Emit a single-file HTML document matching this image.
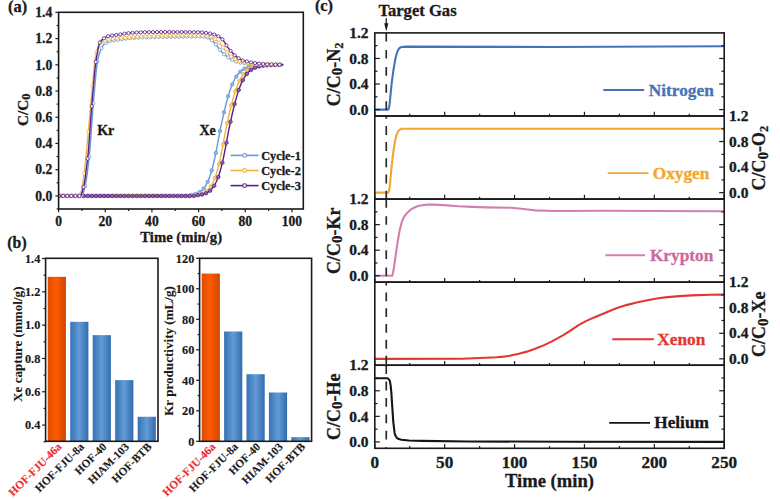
<!DOCTYPE html>
<html><head><meta charset="utf-8"><style>
html,body{margin:0;padding:0;background:#fff;width:780px;height:500px;overflow:hidden}
svg{display:block} text{stroke-width:0.3px}
</style></head><body>
<svg width="780" height="500" viewBox="0 0 780 500" font-family="Liberation Serif" font-weight="bold">
<rect width="780" height="500" fill="#fff"/>
<defs><clipPath id="clipA"><rect x="58.8" y="12.6" width="244.2" height="195.6"/></clipPath></defs>
<path d="M58.6,195.9 L186.97,195.9 L187.42,195.41 L191.45,194.93 L194.6,194.25 L196.84,193.49 L199.08,192.39 L200.88,191.17 L202.68,189.55 L205.37,186.1 L208.06,181.01 L210.75,173.74 L212.55,167.49 L214.79,158.01 L217.04,146.87 L220.18,129.71 L223.77,113.3 L226.46,102.23 L229.16,92.83 L231.4,86.41 L233.65,81.22 L236.34,76.44 L239.03,72.96 L242.17,70.13 L245.76,68.04 L249.8,66.64 L254.74,65.72 L260.58,65.2 L269.1,64.92 L282.57,64.82" fill="none" stroke="#6699d6" stroke-width="1.4" stroke-linejoin="round" stroke-linecap="round" clip-path="url(#clipA)"/>
<g fill="#93b7e2" stroke="#6699d6" stroke-width="0.8" clip-path="url(#clipA)"><circle cx="60.7" cy="195.9" r="1.75"/><circle cx="64.78" cy="195.9" r="1.75"/><circle cx="68.87" cy="195.9" r="1.75"/><circle cx="72.95" cy="195.9" r="1.75"/><circle cx="77.03" cy="195.9" r="1.75"/><circle cx="81.11" cy="195.9" r="1.75"/><circle cx="85.2" cy="195.9" r="1.75"/><circle cx="89.28" cy="195.9" r="1.75"/><circle cx="93.36" cy="195.9" r="1.75"/><circle cx="97.44" cy="195.9" r="1.75"/><circle cx="101.53" cy="195.9" r="1.75"/><circle cx="105.61" cy="195.9" r="1.75"/><circle cx="109.69" cy="195.9" r="1.75"/><circle cx="113.78" cy="195.9" r="1.75"/><circle cx="117.86" cy="195.9" r="1.75"/><circle cx="121.94" cy="195.9" r="1.75"/><circle cx="126.02" cy="195.9" r="1.75"/><circle cx="130.11" cy="195.9" r="1.75"/><circle cx="134.19" cy="195.9" r="1.75"/><circle cx="138.27" cy="195.9" r="1.75"/><circle cx="142.35" cy="195.9" r="1.75"/><circle cx="146.44" cy="195.9" r="1.75"/><circle cx="150.52" cy="195.9" r="1.75"/><circle cx="154.6" cy="195.9" r="1.75"/><circle cx="158.69" cy="195.9" r="1.75"/><circle cx="162.77" cy="195.9" r="1.75"/><circle cx="166.85" cy="195.9" r="1.75"/><circle cx="170.93" cy="195.9" r="1.75"/><circle cx="175.02" cy="195.9" r="1.75"/><circle cx="179.1" cy="195.9" r="1.75"/><circle cx="183.18" cy="195.9" r="1.75"/><circle cx="187.26" cy="195.9" r="1.75"/><circle cx="191.35" cy="194.95" r="1.75"/><circle cx="195.43" cy="194" r="1.75"/><circle cx="199.51" cy="192.13" r="1.75"/><circle cx="203.6" cy="188.53" r="1.75"/><circle cx="207.68" cy="181.85" r="1.75"/><circle cx="211.76" cy="170.38" r="1.75"/><circle cx="215.84" cy="152.98" r="1.75"/><circle cx="219.93" cy="131.01" r="1.75"/><circle cx="224.01" cy="112.26" r="1.75"/><circle cx="228.09" cy="96.33" r="1.75"/><circle cx="232.18" cy="84.49" r="1.75"/><circle cx="236.26" cy="76.57" r="1.75"/><circle cx="240.34" cy="71.64" r="1.75"/><circle cx="244.42" cy="68.71" r="1.75"/><circle cx="248.51" cy="67.01" r="1.75"/><circle cx="252.59" cy="66.04" r="1.75"/><circle cx="256.67" cy="65.5" r="1.75"/><circle cx="260.75" cy="65.19" r="1.75"/><circle cx="264.84" cy="65.02" r="1.75"/><circle cx="268.92" cy="64.92" r="1.75"/><circle cx="273" cy="64.87" r="1.75"/><circle cx="277.09" cy="64.84" r="1.75"/><circle cx="281.17" cy="64.82" r="1.75"/></g>
<path d="M58.6,195.9 L192.8,195.9 L193.25,195.39 L197.29,194.89 L200.43,194.18 L202.68,193.39 L204.47,192.51 L206.27,191.34 L208.06,189.77 L210.75,186.43 L213.45,181.48 L216.14,174.41 L217.94,168.29 L220.18,158.98 L222.42,147.99 L226.01,128.61 L229.16,114.23 L231.85,103.05 L234.09,94.97 L236.34,88.17 L238.58,82.63 L241.28,77.49 L243.97,73.71 L247.11,70.63 L250.25,68.58 L254.29,66.95 L258.78,65.94 L264.17,65.33 L271.35,64.99 L282.57,64.84" fill="none" stroke="#f2b33e" stroke-width="1.4" stroke-linejoin="round" stroke-linecap="round" clip-path="url(#clipA)"/>
<g fill="#f5c977" stroke="#f2b33e" stroke-width="0.8" clip-path="url(#clipA)"><circle cx="59.77" cy="195.9" r="1.75"/><circle cx="63.85" cy="195.9" r="1.75"/><circle cx="67.93" cy="195.9" r="1.75"/><circle cx="72.01" cy="195.9" r="1.75"/><circle cx="76.1" cy="195.9" r="1.75"/><circle cx="80.18" cy="195.9" r="1.75"/><circle cx="84.26" cy="195.9" r="1.75"/><circle cx="88.35" cy="195.9" r="1.75"/><circle cx="92.43" cy="195.9" r="1.75"/><circle cx="96.51" cy="195.9" r="1.75"/><circle cx="100.59" cy="195.9" r="1.75"/><circle cx="104.68" cy="195.9" r="1.75"/><circle cx="108.76" cy="195.9" r="1.75"/><circle cx="112.84" cy="195.9" r="1.75"/><circle cx="116.93" cy="195.9" r="1.75"/><circle cx="121.01" cy="195.9" r="1.75"/><circle cx="125.09" cy="195.9" r="1.75"/><circle cx="129.17" cy="195.9" r="1.75"/><circle cx="133.26" cy="195.9" r="1.75"/><circle cx="137.34" cy="195.9" r="1.75"/><circle cx="141.42" cy="195.9" r="1.75"/><circle cx="145.5" cy="195.9" r="1.75"/><circle cx="149.59" cy="195.9" r="1.75"/><circle cx="153.67" cy="195.9" r="1.75"/><circle cx="157.75" cy="195.9" r="1.75"/><circle cx="161.84" cy="195.9" r="1.75"/><circle cx="165.92" cy="195.9" r="1.75"/><circle cx="170" cy="195.9" r="1.75"/><circle cx="174.08" cy="195.9" r="1.75"/><circle cx="178.17" cy="195.9" r="1.75"/><circle cx="182.25" cy="195.9" r="1.75"/><circle cx="186.33" cy="195.9" r="1.75"/><circle cx="190.41" cy="195.9" r="1.75"/><circle cx="194.5" cy="195.27" r="1.75"/><circle cx="198.58" cy="194.65" r="1.75"/><circle cx="202.66" cy="193.4" r="1.75"/><circle cx="206.75" cy="190.96" r="1.75"/><circle cx="210.83" cy="186.32" r="1.75"/><circle cx="214.91" cy="177.93" r="1.75"/><circle cx="218.99" cy="164.13" r="1.75"/><circle cx="223.08" cy="144.54" r="1.75"/><circle cx="227.16" cy="123.28" r="1.75"/><circle cx="231.24" cy="105.44" r="1.75"/><circle cx="235.32" cy="91.08" r="1.75"/><circle cx="239.41" cy="80.89" r="1.75"/><circle cx="243.49" cy="74.3" r="1.75"/><circle cx="247.57" cy="70.27" r="1.75"/><circle cx="251.66" cy="67.91" r="1.75"/><circle cx="255.74" cy="66.56" r="1.75"/><circle cx="259.82" cy="65.79" r="1.75"/><circle cx="263.9" cy="65.35" r="1.75"/><circle cx="267.99" cy="65.11" r="1.75"/><circle cx="272.07" cy="64.97" r="1.75"/><circle cx="276.15" cy="64.9" r="1.75"/><circle cx="280.24" cy="64.85" r="1.75"/></g>
<path d="M58.6,195.9 L195.94,195.9 L196.39,195.38 L200.43,194.87 L203.57,194.15 L205.82,193.35 L207.61,192.45 L209.41,191.25 L211.2,189.66 L213.9,186.26 L216.59,181.24 L219.28,174.07 L221.08,167.88 L223.32,158.49 L225.57,147.42 L228.71,130.2 L232.3,113.75 L234.99,102.63 L237.24,94.61 L239.48,87.87 L241.72,82.39 L243.97,78.06 L246.66,74.12 L249.35,71.29 L252.5,69.02 L256.54,67.2 L260.58,66.16 L265.96,65.43 L272.69,65.04 L282.57,64.86" fill="none" stroke="#58208c" stroke-width="1.4" stroke-linejoin="round" stroke-linecap="round" clip-path="url(#clipA)"/>
<g fill="#8a62ae" stroke="#58208c" stroke-width="0.8" clip-path="url(#clipA)"><circle cx="59.07" cy="195.9" r="1.75"/><circle cx="63.15" cy="195.9" r="1.75"/><circle cx="67.23" cy="195.9" r="1.75"/><circle cx="71.31" cy="195.9" r="1.75"/><circle cx="75.4" cy="195.9" r="1.75"/><circle cx="79.48" cy="195.9" r="1.75"/><circle cx="83.56" cy="195.9" r="1.75"/><circle cx="87.65" cy="195.9" r="1.75"/><circle cx="91.73" cy="195.9" r="1.75"/><circle cx="95.81" cy="195.9" r="1.75"/><circle cx="99.89" cy="195.9" r="1.75"/><circle cx="103.98" cy="195.9" r="1.75"/><circle cx="108.06" cy="195.9" r="1.75"/><circle cx="112.14" cy="195.9" r="1.75"/><circle cx="116.23" cy="195.9" r="1.75"/><circle cx="120.31" cy="195.9" r="1.75"/><circle cx="124.39" cy="195.9" r="1.75"/><circle cx="128.47" cy="195.9" r="1.75"/><circle cx="132.56" cy="195.9" r="1.75"/><circle cx="136.64" cy="195.9" r="1.75"/><circle cx="140.72" cy="195.9" r="1.75"/><circle cx="144.8" cy="195.9" r="1.75"/><circle cx="148.89" cy="195.9" r="1.75"/><circle cx="152.97" cy="195.9" r="1.75"/><circle cx="157.05" cy="195.9" r="1.75"/><circle cx="161.14" cy="195.9" r="1.75"/><circle cx="165.22" cy="195.9" r="1.75"/><circle cx="169.3" cy="195.9" r="1.75"/><circle cx="173.38" cy="195.9" r="1.75"/><circle cx="177.47" cy="195.9" r="1.75"/><circle cx="181.55" cy="195.9" r="1.75"/><circle cx="185.63" cy="195.9" r="1.75"/><circle cx="189.71" cy="195.9" r="1.75"/><circle cx="193.8" cy="195.9" r="1.75"/><circle cx="197.88" cy="195.24" r="1.75"/><circle cx="201.96" cy="194.57" r="1.75"/><circle cx="206.05" cy="193.25" r="1.75"/><circle cx="210.13" cy="190.67" r="1.75"/><circle cx="214.21" cy="185.77" r="1.75"/><circle cx="218.29" cy="176.98" r="1.75"/><circle cx="222.38" cy="162.67" r="1.75"/><circle cx="226.46" cy="142.66" r="1.75"/><circle cx="230.54" cy="121.66" r="1.75"/><circle cx="234.62" cy="104.06" r="1.75"/><circle cx="238.71" cy="90.05" r="1.75"/><circle cx="242.79" cy="80.2" r="1.75"/><circle cx="246.87" cy="73.86" r="1.75"/><circle cx="250.96" cy="70.02" r="1.75"/><circle cx="255.04" cy="67.76" r="1.75"/><circle cx="259.12" cy="66.47" r="1.75"/><circle cx="263.2" cy="65.74" r="1.75"/><circle cx="267.29" cy="65.32" r="1.75"/><circle cx="271.37" cy="65.09" r="1.75"/><circle cx="275.45" cy="64.96" r="1.75"/><circle cx="279.54" cy="64.89" r="1.75"/></g>
<path d="M58.6,195.9 L81.49,195.9 L81.94,195.82 L82.39,195.32 L83.29,193.15 L85.08,186.52 L85.98,182.1 L87.33,173.09 L89.12,158 L90.02,148.44 L92.71,111.47 L94.96,84.62 L96.3,70.14 L97.2,62.94 L98.55,56.45 L100.34,50.68 L101.69,47.84 L103.03,45.53 L104.38,43.83 L105.28,43.16 L109.32,41.5 L114.26,40.33 L125.03,38.76 L135.35,37.79 L147.47,37.29 L165.42,36.89 L195.94,36.49 L200.88,36.49 L203.12,36.68 L207.61,37.6 L208.96,38.28 L211.2,39.82 L213,41.41 L215.24,43.8 L221.98,52.33 L223.77,54.16 L230.05,58.76 L232.75,60.16 L235.89,61.49 L238.58,62.25 L243.52,63.15 L254.29,64.22 L262.82,64.65 L282.57,64.8" fill="none" stroke="#6699d6" stroke-width="1.4" stroke-linejoin="round" stroke-linecap="round" clip-path="url(#clipA)"/>
<g fill="#ffffff" stroke="#6699d6" stroke-width="0.8" clip-path="url(#clipA)"><circle cx="60.7" cy="195.9" r="1.6"/><circle cx="64.78" cy="195.9" r="1.6"/><circle cx="68.87" cy="195.9" r="1.6"/><circle cx="72.95" cy="195.9" r="1.6"/><circle cx="77.03" cy="195.9" r="1.6"/><circle cx="81.11" cy="195.9" r="1.6"/><circle cx="85.2" cy="186.03" r="1.6"/><circle cx="89.28" cy="156.53" r="1.6"/><circle cx="93.36" cy="103.47" r="1.6"/><circle cx="97.44" cy="61.48" r="1.6"/><circle cx="101.53" cy="48.15" r="1.6"/><circle cx="105.61" cy="42.99" r="1.6"/><circle cx="109.69" cy="41.38" r="1.6"/><circle cx="113.78" cy="40.42" r="1.6"/><circle cx="117.86" cy="39.75" r="1.6"/><circle cx="121.94" cy="39.16" r="1.6"/><circle cx="126.02" cy="38.65" r="1.6"/><circle cx="130.11" cy="38.22" r="1.6"/><circle cx="134.19" cy="37.87" r="1.6"/><circle cx="138.27" cy="37.62" r="1.6"/><circle cx="142.35" cy="37.45" r="1.6"/><circle cx="146.44" cy="37.32" r="1.6"/><circle cx="150.52" cy="37.2" r="1.6"/><circle cx="154.6" cy="37.1" r="1.6"/><circle cx="158.69" cy="37.01" r="1.6"/><circle cx="162.77" cy="36.94" r="1.6"/><circle cx="166.85" cy="36.87" r="1.6"/><circle cx="170.93" cy="36.81" r="1.6"/><circle cx="175.02" cy="36.75" r="1.6"/><circle cx="179.1" cy="36.69" r="1.6"/><circle cx="183.18" cy="36.63" r="1.6"/><circle cx="187.26" cy="36.58" r="1.6"/><circle cx="191.35" cy="36.53" r="1.6"/><circle cx="195.43" cy="36.5" r="1.6"/><circle cx="199.51" cy="36.48" r="1.6"/><circle cx="203.6" cy="36.75" r="1.6"/><circle cx="207.68" cy="37.62" r="1.6"/><circle cx="211.76" cy="40.27" r="1.6"/><circle cx="215.84" cy="44.5" r="1.6"/><circle cx="219.93" cy="49.72" r="1.6"/><circle cx="224.01" cy="54.37" r="1.6"/><circle cx="228.09" cy="57.43" r="1.6"/><circle cx="232.18" cy="59.89" r="1.6"/><circle cx="236.26" cy="61.62" r="1.6"/><circle cx="240.34" cy="62.61" r="1.6"/><circle cx="244.42" cy="63.28" r="1.6"/><circle cx="248.51" cy="63.76" r="1.6"/><circle cx="252.59" cy="64.1" r="1.6"/><circle cx="256.67" cy="64.38" r="1.6"/><circle cx="260.75" cy="64.59" r="1.6"/><circle cx="264.84" cy="64.68" r="1.6"/><circle cx="268.92" cy="64.73" r="1.6"/><circle cx="273" cy="64.76" r="1.6"/><circle cx="277.09" cy="64.79" r="1.6"/><circle cx="281.17" cy="64.8" r="1.6"/></g>
<path d="M58.6,195.9 L79.25,195.9 L79.7,195.72 L80.59,193.73 L81.49,190.11 L83.29,180.75 L84.63,169.98 L87.77,138.05 L93.61,72.28 L94.96,59.99 L96.3,52.99 L98.1,46.44 L99.44,43.81 L100.79,42.55 L102.14,41.65 L103.93,40.82 L106.18,40.1 L111.56,39.08 L121.44,37.85 L132.21,37.05 L169.46,35.74 L203.12,35.7 L206.27,35.9 L210.31,36.63 L211.65,37.08 L213.45,38.06 L216.14,39.94 L218.38,41.93 L221.08,44.86 L226.91,52.22 L229.61,55.2 L231.85,57.04 L234.09,58.53 L237.24,60.2 L239.48,61.16 L246.21,62.93 L252.94,63.78 L263.27,64.39 L282.57,64.8" fill="none" stroke="#f2b33e" stroke-width="1.4" stroke-linejoin="round" stroke-linecap="round" clip-path="url(#clipA)"/>
<g fill="#ffffff" stroke="#f2b33e" stroke-width="0.8" clip-path="url(#clipA)"><circle cx="59.77" cy="195.9" r="1.6"/><circle cx="63.85" cy="195.9" r="1.6"/><circle cx="67.93" cy="195.9" r="1.6"/><circle cx="72.01" cy="195.9" r="1.6"/><circle cx="76.1" cy="195.9" r="1.6"/><circle cx="80.18" cy="194.89" r="1.6"/><circle cx="84.26" cy="173.3" r="1.6"/><circle cx="88.35" cy="131.76" r="1.6"/><circle cx="92.43" cy="85.74" r="1.6"/><circle cx="96.51" cy="52.08" r="1.6"/><circle cx="100.59" cy="42.7" r="1.6"/><circle cx="104.68" cy="40.55" r="1.6"/><circle cx="108.76" cy="39.54" r="1.6"/><circle cx="112.84" cy="38.89" r="1.6"/><circle cx="116.93" cy="38.34" r="1.6"/><circle cx="121.01" cy="37.89" r="1.6"/><circle cx="125.09" cy="37.52" r="1.6"/><circle cx="129.17" cy="37.23" r="1.6"/><circle cx="133.26" cy="37" r="1.6"/><circle cx="137.34" cy="36.8" r="1.6"/><circle cx="141.42" cy="36.63" r="1.6"/><circle cx="145.5" cy="36.49" r="1.6"/><circle cx="149.59" cy="36.34" r="1.6"/><circle cx="153.67" cy="36.19" r="1.6"/><circle cx="157.75" cy="36.05" r="1.6"/><circle cx="161.84" cy="35.92" r="1.6"/><circle cx="165.92" cy="35.81" r="1.6"/><circle cx="170" cy="35.73" r="1.6"/><circle cx="174.08" cy="35.7" r="1.6"/><circle cx="178.17" cy="35.7" r="1.6"/><circle cx="182.25" cy="35.7" r="1.6"/><circle cx="186.33" cy="35.7" r="1.6"/><circle cx="190.41" cy="35.7" r="1.6"/><circle cx="194.5" cy="35.7" r="1.6"/><circle cx="198.58" cy="35.7" r="1.6"/><circle cx="202.66" cy="35.7" r="1.6"/><circle cx="206.75" cy="35.97" r="1.6"/><circle cx="210.83" cy="36.77" r="1.6"/><circle cx="214.91" cy="39.05" r="1.6"/><circle cx="218.99" cy="42.57" r="1.6"/><circle cx="223.08" cy="47.41" r="1.6"/><circle cx="227.16" cy="52.52" r="1.6"/><circle cx="231.24" cy="56.58" r="1.6"/><circle cx="235.32" cy="59.22" r="1.6"/><circle cx="239.41" cy="61.13" r="1.6"/><circle cx="243.49" cy="62.32" r="1.6"/><circle cx="247.57" cy="63.17" r="1.6"/><circle cx="251.66" cy="63.66" r="1.6"/><circle cx="255.74" cy="63.99" r="1.6"/><circle cx="259.82" cy="64.24" r="1.6"/><circle cx="263.9" cy="64.41" r="1.6"/><circle cx="267.99" cy="64.54" r="1.6"/><circle cx="272.07" cy="64.65" r="1.6"/><circle cx="276.15" cy="64.74" r="1.6"/><circle cx="280.24" cy="64.79" r="1.6"/></g>
<path d="M58.6,195.9 L80.14,195.9 L80.59,195.79 L81.04,195.23 L82.39,191.47 L84.18,184.22 L85.08,179.04 L87.77,157.51 L88.67,147.82 L91.36,110.86 L93.16,89.23 L94.51,73.82 L95.85,61.62 L97.65,51.01 L98.55,46.8 L99.44,43.64 L100.34,41.79 L101.69,40.1 L103.03,38.92 L105.28,37.48 L107.97,36.24 L111.11,35.62 L116.95,34.91 L127.72,33.23 L140.74,32.29 L163.18,32.05 L190.11,32.11 L200.88,32.31 L207.61,33.1 L211.65,33.86 L214.79,34.71 L217.94,36.1 L220.63,37.79 L223.32,40.3 L227.81,47.38 L230.5,50.83 L233.65,54.31 L237.24,57.27 L242.62,60.42 L251.15,62.41 L259.68,63.64 L272.24,64.51 L282.57,64.8" fill="none" stroke="#58208c" stroke-width="1.4" stroke-linejoin="round" stroke-linecap="round" clip-path="url(#clipA)"/>
<g fill="#ffffff" stroke="#58208c" stroke-width="0.8" clip-path="url(#clipA)"><circle cx="59.07" cy="195.9" r="1.6"/><circle cx="63.15" cy="195.9" r="1.6"/><circle cx="67.23" cy="195.9" r="1.6"/><circle cx="71.31" cy="195.9" r="1.6"/><circle cx="75.4" cy="195.9" r="1.6"/><circle cx="79.48" cy="195.9" r="1.6"/><circle cx="83.56" cy="186.99" r="1.6"/><circle cx="87.65" cy="158.67" r="1.6"/><circle cx="91.73" cy="106.25" r="1.6"/><circle cx="95.81" cy="61.92" r="1.6"/><circle cx="99.89" cy="42.54" r="1.6"/><circle cx="103.98" cy="38.28" r="1.6"/><circle cx="108.06" cy="36.21" r="1.6"/><circle cx="112.14" cy="35.48" r="1.6"/><circle cx="116.23" cy="35" r="1.6"/><circle cx="120.31" cy="34.37" r="1.6"/><circle cx="124.39" cy="33.69" r="1.6"/><circle cx="128.47" cy="33.15" r="1.6"/><circle cx="132.56" cy="32.81" r="1.6"/><circle cx="136.64" cy="32.51" r="1.6"/><circle cx="140.72" cy="32.29" r="1.6"/><circle cx="144.8" cy="32.17" r="1.6"/><circle cx="148.89" cy="32.13" r="1.6"/><circle cx="152.97" cy="32.1" r="1.6"/><circle cx="157.05" cy="32.07" r="1.6"/><circle cx="161.14" cy="32.05" r="1.6"/><circle cx="165.22" cy="32.04" r="1.6"/><circle cx="169.3" cy="32.03" r="1.6"/><circle cx="173.38" cy="32.03" r="1.6"/><circle cx="177.47" cy="32.03" r="1.6"/><circle cx="181.55" cy="32.04" r="1.6"/><circle cx="185.63" cy="32.07" r="1.6"/><circle cx="189.71" cy="32.11" r="1.6"/><circle cx="193.8" cy="32.16" r="1.6"/><circle cx="197.88" cy="32.24" r="1.6"/><circle cx="201.96" cy="32.38" r="1.6"/><circle cx="206.05" cy="32.88" r="1.6"/><circle cx="210.13" cy="33.53" r="1.6"/><circle cx="214.21" cy="34.52" r="1.6"/><circle cx="218.29" cy="36.29" r="1.6"/><circle cx="222.38" cy="39.31" r="1.6"/><circle cx="226.46" cy="45.42" r="1.6"/><circle cx="230.54" cy="50.88" r="1.6"/><circle cx="234.62" cy="55.25" r="1.6"/><circle cx="238.71" cy="58.22" r="1.6"/><circle cx="242.79" cy="60.49" r="1.6"/><circle cx="246.87" cy="61.42" r="1.6"/><circle cx="250.96" cy="62.38" r="1.6"/><circle cx="255.04" cy="63.04" r="1.6"/><circle cx="259.12" cy="63.58" r="1.6"/><circle cx="263.2" cy="63.97" r="1.6"/><circle cx="267.29" cy="64.23" r="1.6"/><circle cx="271.37" cy="64.47" r="1.6"/><circle cx="275.45" cy="64.65" r="1.6"/><circle cx="279.54" cy="64.77" r="1.6"/></g>
<rect x="58.6" y="12.3" width="244.7" height="196.7" fill="none" stroke="#1a1a1a" stroke-width="1.6"/>
<line x1="56.6" y1="209.01" x2="58.6" y2="209.01" stroke="#1a1a1a" stroke-width="1.2" />
<line x1="55.4" y1="195.9" x2="58.6" y2="195.9" stroke="#1a1a1a" stroke-width="1.2" />
<text x="52.2" y="200.6" font-size="13.6" text-anchor="end" fill="#1a1a1a" stroke="#1a1a1a" >0.0</text>
<line x1="56.6" y1="182.79" x2="58.6" y2="182.79" stroke="#1a1a1a" stroke-width="1.2" />
<line x1="55.4" y1="169.68" x2="58.6" y2="169.68" stroke="#1a1a1a" stroke-width="1.2" />
<text x="52.2" y="174.38" font-size="13.6" text-anchor="end" fill="#1a1a1a" stroke="#1a1a1a" >0.2</text>
<line x1="56.6" y1="156.57" x2="58.6" y2="156.57" stroke="#1a1a1a" stroke-width="1.2" />
<line x1="55.4" y1="143.46" x2="58.6" y2="143.46" stroke="#1a1a1a" stroke-width="1.2" />
<text x="52.2" y="148.16" font-size="13.6" text-anchor="end" fill="#1a1a1a" stroke="#1a1a1a" >0.4</text>
<line x1="56.6" y1="130.35" x2="58.6" y2="130.35" stroke="#1a1a1a" stroke-width="1.2" />
<line x1="55.4" y1="117.24" x2="58.6" y2="117.24" stroke="#1a1a1a" stroke-width="1.2" />
<text x="52.2" y="121.94" font-size="13.6" text-anchor="end" fill="#1a1a1a" stroke="#1a1a1a" >0.6</text>
<line x1="56.6" y1="104.13" x2="58.6" y2="104.13" stroke="#1a1a1a" stroke-width="1.2" />
<line x1="55.4" y1="91.02" x2="58.6" y2="91.02" stroke="#1a1a1a" stroke-width="1.2" />
<text x="52.2" y="95.72" font-size="13.6" text-anchor="end" fill="#1a1a1a" stroke="#1a1a1a" >0.8</text>
<line x1="56.6" y1="77.91" x2="58.6" y2="77.91" stroke="#1a1a1a" stroke-width="1.2" />
<line x1="55.4" y1="64.8" x2="58.6" y2="64.8" stroke="#1a1a1a" stroke-width="1.2" />
<text x="52.2" y="69.5" font-size="13.6" text-anchor="end" fill="#1a1a1a" stroke="#1a1a1a" >1.0</text>
<line x1="56.6" y1="51.69" x2="58.6" y2="51.69" stroke="#1a1a1a" stroke-width="1.2" />
<line x1="55.4" y1="38.58" x2="58.6" y2="38.58" stroke="#1a1a1a" stroke-width="1.2" />
<text x="52.2" y="43.28" font-size="13.6" text-anchor="end" fill="#1a1a1a" stroke="#1a1a1a" >1.2</text>
<line x1="56.6" y1="25.47" x2="58.6" y2="25.47" stroke="#1a1a1a" stroke-width="1.2" />
<line x1="55.4" y1="12.36" x2="58.6" y2="12.36" stroke="#1a1a1a" stroke-width="1.2" />
<text x="52.2" y="17.06" font-size="13.6" text-anchor="end" fill="#1a1a1a" stroke="#1a1a1a" >1.4</text>
<line x1="58.6" y1="209" x2="58.6" y2="212.2" stroke="#1a1a1a" stroke-width="1.2" />
<text x="58.6" y="226.4" font-size="13.6" text-anchor="middle" fill="#1a1a1a" stroke="#1a1a1a" >0</text>
<line x1="81.93" y1="209" x2="81.93" y2="211" stroke="#1a1a1a" stroke-width="1.2" />
<line x1="105.26" y1="209" x2="105.26" y2="212.2" stroke="#1a1a1a" stroke-width="1.2" />
<text x="105.26" y="226.4" font-size="13.6" text-anchor="middle" fill="#1a1a1a" stroke="#1a1a1a" >20</text>
<line x1="128.59" y1="209" x2="128.59" y2="211" stroke="#1a1a1a" stroke-width="1.2" />
<line x1="151.92" y1="209" x2="151.92" y2="212.2" stroke="#1a1a1a" stroke-width="1.2" />
<text x="151.92" y="226.4" font-size="13.6" text-anchor="middle" fill="#1a1a1a" stroke="#1a1a1a" >40</text>
<line x1="175.25" y1="209" x2="175.25" y2="211" stroke="#1a1a1a" stroke-width="1.2" />
<line x1="198.58" y1="209" x2="198.58" y2="212.2" stroke="#1a1a1a" stroke-width="1.2" />
<text x="198.58" y="226.4" font-size="13.6" text-anchor="middle" fill="#1a1a1a" stroke="#1a1a1a" >60</text>
<line x1="221.91" y1="209" x2="221.91" y2="211" stroke="#1a1a1a" stroke-width="1.2" />
<line x1="245.24" y1="209" x2="245.24" y2="212.2" stroke="#1a1a1a" stroke-width="1.2" />
<text x="245.24" y="226.4" font-size="13.6" text-anchor="middle" fill="#1a1a1a" stroke="#1a1a1a" >80</text>
<line x1="268.57" y1="209" x2="268.57" y2="211" stroke="#1a1a1a" stroke-width="1.2" />
<line x1="291.9" y1="209" x2="291.9" y2="212.2" stroke="#1a1a1a" stroke-width="1.2" />
<text x="291.9" y="226.4" font-size="13.6" text-anchor="middle" fill="#1a1a1a" stroke="#1a1a1a" >100</text>
<text x="181.2" y="242" font-size="14.7" text-anchor="middle" fill="#1a1a1a" stroke="#1a1a1a" >Time (min/g)</text>
<text transform="translate(27.6,126) rotate(-90)" font-size="15.3" fill="#1a1a1a" stroke="#1a1a1a">C/C<tspan font-size="12.5" dy="2.4">0</tspan></text>
<text x="105.8" y="135.3" font-size="14" text-anchor="middle" fill="#1a1a1a" stroke="#1a1a1a" >Kr</text>
<text x="207.6" y="134.8" font-size="14" text-anchor="middle" fill="#1a1a1a" stroke="#1a1a1a" >Xe</text>
<line x1="230.6" y1="155.4" x2="258.6" y2="155.4" stroke="#6699d6" stroke-width="1.6" />
<circle cx="244.6" cy="155.4" r="1.9" fill="#fff" stroke="#6699d6" stroke-width="1.1"/>
<text x="261.2" y="159.8" font-size="12.3" text-anchor="start" fill="#1a1a1a" stroke="#1a1a1a" >Cycle-1</text>
<line x1="230.6" y1="170.5" x2="258.6" y2="170.5" stroke="#f2b33e" stroke-width="1.6" />
<circle cx="244.6" cy="170.5" r="1.9" fill="#fff" stroke="#f2b33e" stroke-width="1.1"/>
<text x="261.2" y="174.9" font-size="12.3" text-anchor="start" fill="#1a1a1a" stroke="#1a1a1a" >Cycle-2</text>
<line x1="230.6" y1="185.6" x2="258.6" y2="185.6" stroke="#58208c" stroke-width="1.6" />
<circle cx="244.6" cy="185.6" r="1.9" fill="#fff" stroke="#58208c" stroke-width="1.1"/>
<text x="261.2" y="190" font-size="12.3" text-anchor="start" fill="#1a1a1a" stroke="#1a1a1a" >Cycle-3</text>
<text x="17.55" y="11.6" font-size="16.4" text-anchor="middle" fill="#1a1a1a" stroke="#1a1a1a" >(a)</text>
<defs>
<linearGradient id="gOr" x1="0" x2="1" y1="0" y2="0"><stop offset="0" stop-color="#dc4c00"/><stop offset="0.45" stop-color="#ff5a00"/><stop offset="1" stop-color="#d04800"/></linearGradient>
<linearGradient id="gBl" x1="0" x2="1" y1="0" y2="0"><stop offset="0" stop-color="#3572b4"/><stop offset="0.5" stop-color="#639bd7"/><stop offset="1" stop-color="#326cae"/></linearGradient>
</defs>
<rect x="47.74" y="276.83" width="18.2" height="164.47" fill="url(#gOr)" />
<text transform="translate(62.34,447.5) rotate(-45)" font-size="11.3" text-anchor="end" fill="#ee2a2a" stroke="#ee2a2a" style="stroke-width:0.12px">HOF-FJU-46a</text>
<rect x="70.22" y="321.81" width="18.2" height="119.49" fill="url(#gBl)" />
<text transform="translate(84.82,447.5) rotate(-45)" font-size="11.3" text-anchor="end" fill="#1a1a1a" stroke="#1a1a1a" style="stroke-width:0.12px">HOF-FJU-8a</text>
<rect x="92.7" y="335.14" width="18.2" height="106.16" fill="url(#gBl)" />
<text transform="translate(107.3,447.5) rotate(-45)" font-size="11.3" text-anchor="end" fill="#1a1a1a" stroke="#1a1a1a" style="stroke-width:0.12px">HOF-40</text>
<rect x="115.18" y="380.12" width="18.2" height="61.18" fill="url(#gBl)" />
<text transform="translate(129.78,447.5) rotate(-45)" font-size="11.3" text-anchor="end" fill="#1a1a1a" stroke="#1a1a1a" style="stroke-width:0.12px">HIAM-103</text>
<rect x="137.66" y="416.77" width="18.2" height="24.53" fill="url(#gBl)" />
<text transform="translate(152.26,447.5) rotate(-45)" font-size="11.3" text-anchor="end" fill="#1a1a1a" stroke="#1a1a1a" style="stroke-width:0.12px">HOF-BTB</text>
<rect x="45.6" y="258.3" width="112.4" height="183" fill="none" stroke="#1a1a1a" stroke-width="1.6"/>
<line x1="42.1" y1="425.1" x2="45.6" y2="425.1" stroke="#1a1a1a" stroke-width="1.2" />
<text x="40.3" y="429.4" font-size="12.3" text-anchor="end" fill="#1a1a1a" stroke="#1a1a1a" style="stroke-width:0.15px">0.4</text>
<line x1="42.1" y1="391.78" x2="45.6" y2="391.78" stroke="#1a1a1a" stroke-width="1.2" />
<text x="40.3" y="396.08" font-size="12.3" text-anchor="end" fill="#1a1a1a" stroke="#1a1a1a" style="stroke-width:0.15px">0.6</text>
<line x1="42.1" y1="358.46" x2="45.6" y2="358.46" stroke="#1a1a1a" stroke-width="1.2" />
<text x="40.3" y="362.76" font-size="12.3" text-anchor="end" fill="#1a1a1a" stroke="#1a1a1a" style="stroke-width:0.15px">0.8</text>
<line x1="42.1" y1="325.14" x2="45.6" y2="325.14" stroke="#1a1a1a" stroke-width="1.2" />
<text x="40.3" y="329.44" font-size="12.3" text-anchor="end" fill="#1a1a1a" stroke="#1a1a1a" style="stroke-width:0.15px">1.0</text>
<line x1="42.1" y1="291.82" x2="45.6" y2="291.82" stroke="#1a1a1a" stroke-width="1.2" />
<text x="40.3" y="296.12" font-size="12.3" text-anchor="end" fill="#1a1a1a" stroke="#1a1a1a" style="stroke-width:0.15px">1.2</text>
<line x1="42.1" y1="258.5" x2="45.6" y2="258.5" stroke="#1a1a1a" stroke-width="1.2" />
<text x="40.3" y="262.8" font-size="12.3" text-anchor="end" fill="#1a1a1a" stroke="#1a1a1a" style="stroke-width:0.15px">1.4</text>
<line x1="43.6" y1="441.76" x2="45.6" y2="441.76" stroke="#1a1a1a" stroke-width="1.2" />
<line x1="43.6" y1="408.44" x2="45.6" y2="408.44" stroke="#1a1a1a" stroke-width="1.2" />
<line x1="43.6" y1="375.12" x2="45.6" y2="375.12" stroke="#1a1a1a" stroke-width="1.2" />
<line x1="43.6" y1="341.8" x2="45.6" y2="341.8" stroke="#1a1a1a" stroke-width="1.2" />
<line x1="43.6" y1="308.48" x2="45.6" y2="308.48" stroke="#1a1a1a" stroke-width="1.2" />
<line x1="43.6" y1="275.16" x2="45.6" y2="275.16" stroke="#1a1a1a" stroke-width="1.2" />
<text transform="translate(21.6,344.2) rotate(-90)" font-size="13.1" text-anchor="middle" fill="#1a1a1a" stroke="#1a1a1a" style="stroke-width:0.1px">Xe capture (mmol/g)</text>
<rect x="201.7" y="273.55" width="18.2" height="167.75" fill="url(#gOr)" />
<text transform="translate(216.3,447.5) rotate(-45)" font-size="11.3" text-anchor="end" fill="#ee2a2a" stroke="#ee2a2a" style="stroke-width:0.12px">HOF-FJU-46a</text>
<rect x="224.1" y="331.5" width="18.2" height="109.8" fill="url(#gBl)" />
<text transform="translate(238.7,447.5) rotate(-45)" font-size="11.3" text-anchor="end" fill="#1a1a1a" stroke="#1a1a1a" style="stroke-width:0.12px">HOF-FJU-8a</text>
<rect x="246.5" y="374.2" width="18.2" height="67.1" fill="url(#gBl)" />
<text transform="translate(261.1,447.5) rotate(-45)" font-size="11.3" text-anchor="end" fill="#1a1a1a" stroke="#1a1a1a" style="stroke-width:0.12px">HOF-40</text>
<rect x="268.9" y="392.5" width="18.2" height="48.8" fill="url(#gBl)" />
<text transform="translate(283.5,447.5) rotate(-45)" font-size="11.3" text-anchor="end" fill="#1a1a1a" stroke="#1a1a1a" style="stroke-width:0.12px">HIAM-103</text>
<rect x="291.3" y="437.18" width="18.2" height="4.12" fill="url(#gBl)" />
<text transform="translate(305.9,447.5) rotate(-45)" font-size="11.3" text-anchor="end" fill="#1a1a1a" stroke="#1a1a1a" style="stroke-width:0.12px">HOF-BTB</text>
<rect x="199.6" y="258.3" width="112" height="183" fill="none" stroke="#1a1a1a" stroke-width="1.6"/>
<line x1="196.1" y1="441.3" x2="199.6" y2="441.3" stroke="#1a1a1a" stroke-width="1.2" />
<text x="194.3" y="445.6" font-size="12.3" text-anchor="end" fill="#1a1a1a" stroke="#1a1a1a" style="stroke-width:0.15px">0</text>
<line x1="196.1" y1="410.8" x2="199.6" y2="410.8" stroke="#1a1a1a" stroke-width="1.2" />
<text x="194.3" y="415.1" font-size="12.3" text-anchor="end" fill="#1a1a1a" stroke="#1a1a1a" style="stroke-width:0.15px">20</text>
<line x1="196.1" y1="380.3" x2="199.6" y2="380.3" stroke="#1a1a1a" stroke-width="1.2" />
<text x="194.3" y="384.6" font-size="12.3" text-anchor="end" fill="#1a1a1a" stroke="#1a1a1a" style="stroke-width:0.15px">40</text>
<line x1="196.1" y1="349.8" x2="199.6" y2="349.8" stroke="#1a1a1a" stroke-width="1.2" />
<text x="194.3" y="354.1" font-size="12.3" text-anchor="end" fill="#1a1a1a" stroke="#1a1a1a" style="stroke-width:0.15px">60</text>
<line x1="196.1" y1="319.3" x2="199.6" y2="319.3" stroke="#1a1a1a" stroke-width="1.2" />
<text x="194.3" y="323.6" font-size="12.3" text-anchor="end" fill="#1a1a1a" stroke="#1a1a1a" style="stroke-width:0.15px">80</text>
<line x1="196.1" y1="288.8" x2="199.6" y2="288.8" stroke="#1a1a1a" stroke-width="1.2" />
<text x="194.3" y="293.1" font-size="12.3" text-anchor="end" fill="#1a1a1a" stroke="#1a1a1a" style="stroke-width:0.15px">100</text>
<line x1="196.1" y1="258.3" x2="199.6" y2="258.3" stroke="#1a1a1a" stroke-width="1.2" />
<text x="194.3" y="262.6" font-size="12.3" text-anchor="end" fill="#1a1a1a" stroke="#1a1a1a" style="stroke-width:0.15px">120</text>
<line x1="197.6" y1="426.05" x2="199.6" y2="426.05" stroke="#1a1a1a" stroke-width="1.2" />
<line x1="197.6" y1="395.55" x2="199.6" y2="395.55" stroke="#1a1a1a" stroke-width="1.2" />
<line x1="197.6" y1="365.05" x2="199.6" y2="365.05" stroke="#1a1a1a" stroke-width="1.2" />
<line x1="197.6" y1="334.55" x2="199.6" y2="334.55" stroke="#1a1a1a" stroke-width="1.2" />
<line x1="197.6" y1="304.05" x2="199.6" y2="304.05" stroke="#1a1a1a" stroke-width="1.2" />
<line x1="197.6" y1="273.55" x2="199.6" y2="273.55" stroke="#1a1a1a" stroke-width="1.2" />
<text transform="translate(172.7,351) rotate(-90)" font-size="13.1" text-anchor="middle" fill="#1a1a1a" stroke="#1a1a1a" style="stroke-width:0.1px">Kr productivity (mL/g)</text>
<text x="17" y="248" font-size="15.8" text-anchor="middle" fill="#1a1a1a" stroke="#1a1a1a" >(b)</text>
<defs><clipPath id="clipC"><rect x="374.8" y="32.9" width="349.4" height="415.4"/></clipPath></defs>
<path d="M374.8,109.59 L388.09,109.59 L388.32,109.55 L388.55,109.18 L389.48,105.49 L391.58,83.94 L393.45,69.96 L395.08,60.34 L396.48,54.33 L397.64,50.99 L398.58,49.25 L399.27,48.35 L400.44,47.4 L401.37,46.98 L406.73,46.64 L554.74,46.95 L724.2,46.32" fill="none" stroke="#4473ba" stroke-width="2.1" stroke-linejoin="round" stroke-linecap="round" clip-path="url(#clipC)"/>
<line x1="386.26" y1="32.9" x2="386.26" y2="115.98" stroke="#2a2a2a" stroke-width="1.7" stroke-dasharray="8.6 8.5" stroke-dashoffset="0"/>
<line x1="374.8" y1="109.59" x2="379.8" y2="109.59" stroke="#1a1a1a" stroke-width="1.2" />
<line x1="719.2" y1="109.59" x2="724.2" y2="109.59" stroke="#1a1a1a" stroke-width="1.2" />
<line x1="374.8" y1="96.81" x2="377.5" y2="96.81" stroke="#1a1a1a" stroke-width="1.2" />
<line x1="721.5" y1="96.81" x2="724.2" y2="96.81" stroke="#1a1a1a" stroke-width="1.2" />
<line x1="374.8" y1="84.03" x2="379.8" y2="84.03" stroke="#1a1a1a" stroke-width="1.2" />
<line x1="719.2" y1="84.03" x2="724.2" y2="84.03" stroke="#1a1a1a" stroke-width="1.2" />
<line x1="374.8" y1="71.24" x2="377.5" y2="71.24" stroke="#1a1a1a" stroke-width="1.2" />
<line x1="721.5" y1="71.24" x2="724.2" y2="71.24" stroke="#1a1a1a" stroke-width="1.2" />
<line x1="374.8" y1="58.46" x2="379.8" y2="58.46" stroke="#1a1a1a" stroke-width="1.2" />
<line x1="719.2" y1="58.46" x2="724.2" y2="58.46" stroke="#1a1a1a" stroke-width="1.2" />
<line x1="374.8" y1="45.68" x2="377.5" y2="45.68" stroke="#1a1a1a" stroke-width="1.2" />
<line x1="721.5" y1="45.68" x2="724.2" y2="45.68" stroke="#1a1a1a" stroke-width="1.2" />
<text x="368.6" y="114.79" font-size="15.5" text-anchor="end" fill="#1a1a1a" stroke="#1a1a1a" >0.0</text>
<text x="368.6" y="89.23" font-size="15.5" text-anchor="end" fill="#1a1a1a" stroke="#1a1a1a" >0.4</text>
<text x="368.6" y="63.66" font-size="15.5" text-anchor="end" fill="#1a1a1a" stroke="#1a1a1a" >0.8</text>
<text x="368.6" y="38.1" font-size="15.5" text-anchor="end" fill="#1a1a1a" stroke="#1a1a1a" >1.2</text>
<line x1="374.8" y1="111.78" x2="374.8" y2="115.98" stroke="#1a1a1a" stroke-width="1.2" />
<line x1="409.74" y1="113.78" x2="409.74" y2="115.98" stroke="#1a1a1a" stroke-width="1.2" />
<line x1="444.68" y1="111.78" x2="444.68" y2="115.98" stroke="#1a1a1a" stroke-width="1.2" />
<line x1="479.62" y1="113.78" x2="479.62" y2="115.98" stroke="#1a1a1a" stroke-width="1.2" />
<line x1="514.56" y1="111.78" x2="514.56" y2="115.98" stroke="#1a1a1a" stroke-width="1.2" />
<line x1="549.5" y1="113.78" x2="549.5" y2="115.98" stroke="#1a1a1a" stroke-width="1.2" />
<line x1="584.44" y1="111.78" x2="584.44" y2="115.98" stroke="#1a1a1a" stroke-width="1.2" />
<line x1="619.38" y1="113.78" x2="619.38" y2="115.98" stroke="#1a1a1a" stroke-width="1.2" />
<line x1="654.32" y1="111.78" x2="654.32" y2="115.98" stroke="#1a1a1a" stroke-width="1.2" />
<line x1="689.26" y1="113.78" x2="689.26" y2="115.98" stroke="#1a1a1a" stroke-width="1.2" />
<line x1="724.2" y1="111.78" x2="724.2" y2="115.98" stroke="#1a1a1a" stroke-width="1.2" />
<line x1="603.3" y1="90" x2="644.2" y2="90" stroke="#4473ba" stroke-width="1.9" />
<text x="648.8" y="95.8" font-size="17.3" text-anchor="start" fill="#4473ba" stroke="#4473ba" >Nitrogen</text>
<text transform="translate(339.6,74.49) rotate(-90)" font-size="18" text-anchor="middle" fill="#1a1a1a" stroke="#1a1a1a">C/C<tspan font-size="15" dy="2.6">0</tspan><tspan dy="-2.6">-</tspan>N<tspan font-size="12.5" dy="3">2</tspan></text>
<path d="M374.8,192.67 L388.09,192.67 L388.32,192.63 L388.55,192.26 L389.25,189.88 L389.72,186.82 L391.35,169.17 L392.51,158.92 L393.91,147.7 L395.08,140.8 L396.48,135.06 L397.64,132.3 L398.58,130.86 L399.27,130.14 L400.67,129.19 L401.61,128.81 L724.2,128.76" fill="none" stroke="#f2a62e" stroke-width="2.1" stroke-linejoin="round" stroke-linecap="round" clip-path="url(#clipC)"/>
<line x1="386.26" y1="115.98" x2="386.26" y2="199.06" stroke="#2a2a2a" stroke-width="1.7" stroke-dasharray="9.0 7.2" stroke-dashoffset="6.3"/>
<line x1="719.2" y1="192.67" x2="724.2" y2="192.67" stroke="#1a1a1a" stroke-width="1.2" />
<line x1="721.5" y1="179.89" x2="724.2" y2="179.89" stroke="#1a1a1a" stroke-width="1.2" />
<line x1="719.2" y1="167.11" x2="724.2" y2="167.11" stroke="#1a1a1a" stroke-width="1.2" />
<line x1="721.5" y1="154.32" x2="724.2" y2="154.32" stroke="#1a1a1a" stroke-width="1.2" />
<line x1="719.2" y1="141.54" x2="724.2" y2="141.54" stroke="#1a1a1a" stroke-width="1.2" />
<line x1="721.5" y1="128.76" x2="724.2" y2="128.76" stroke="#1a1a1a" stroke-width="1.2" />
<text x="729" y="197.87" font-size="15.5" text-anchor="start" fill="#1a1a1a" stroke="#1a1a1a" >0.0</text>
<text x="729" y="172.31" font-size="15.5" text-anchor="start" fill="#1a1a1a" stroke="#1a1a1a" >0.4</text>
<text x="729" y="146.74" font-size="15.5" text-anchor="start" fill="#1a1a1a" stroke="#1a1a1a" >0.8</text>
<text x="729" y="121.18" font-size="15.5" text-anchor="start" fill="#1a1a1a" stroke="#1a1a1a" >1.2</text>
<line x1="374.8" y1="194.86" x2="374.8" y2="199.06" stroke="#1a1a1a" stroke-width="1.2" />
<line x1="409.74" y1="196.86" x2="409.74" y2="199.06" stroke="#1a1a1a" stroke-width="1.2" />
<line x1="444.68" y1="194.86" x2="444.68" y2="199.06" stroke="#1a1a1a" stroke-width="1.2" />
<line x1="479.62" y1="196.86" x2="479.62" y2="199.06" stroke="#1a1a1a" stroke-width="1.2" />
<line x1="514.56" y1="194.86" x2="514.56" y2="199.06" stroke="#1a1a1a" stroke-width="1.2" />
<line x1="549.5" y1="196.86" x2="549.5" y2="199.06" stroke="#1a1a1a" stroke-width="1.2" />
<line x1="584.44" y1="194.86" x2="584.44" y2="199.06" stroke="#1a1a1a" stroke-width="1.2" />
<line x1="619.38" y1="196.86" x2="619.38" y2="199.06" stroke="#1a1a1a" stroke-width="1.2" />
<line x1="654.32" y1="194.86" x2="654.32" y2="199.06" stroke="#1a1a1a" stroke-width="1.2" />
<line x1="689.26" y1="196.86" x2="689.26" y2="199.06" stroke="#1a1a1a" stroke-width="1.2" />
<line x1="724.2" y1="194.86" x2="724.2" y2="199.06" stroke="#1a1a1a" stroke-width="1.2" />
<line x1="607.7" y1="173.1" x2="648.5" y2="173.1" stroke="#f2a62e" stroke-width="1.9" />
<text x="652.7" y="179.2" font-size="17.3" text-anchor="start" fill="#f2a62e" stroke="#f2a62e" >Oxygen</text>
<text transform="translate(765.3,158.02) rotate(-90)" font-size="18" text-anchor="middle" fill="#1a1a1a" stroke="#1a1a1a">C/C<tspan font-size="15" dy="2.6">0</tspan><tspan dy="-2.6">-</tspan>O<tspan font-size="12.5" dy="3">2</tspan></text>
<path d="M374.8,275.75 L392.05,275.75 L392.28,275.62 L392.75,274.02 L393.91,267.75 L396.48,249.72 L399.04,233.51 L400.91,225.11 L402.3,220.55 L403.7,217.64 L405.33,215.05 L407.2,212.85 L409.76,210.46 L411.86,208.91 L413.96,207.74 L417.46,206.33 L420.49,205.52 L427.94,204.58 L434.47,204.58 L443.79,205.08 L458.95,206.25 L472,206.88 L486.22,207.36 L511.16,207.81 L516.52,208.26 L534.7,210.33 L554.28,210.95 L569.9,211.07 L602.29,210.69 L652.18,211.07 L724.2,211.2" fill="none" stroke="#d27fae" stroke-width="2.1" stroke-linejoin="round" stroke-linecap="round" clip-path="url(#clipC)"/>
<line x1="386.26" y1="199.06" x2="386.26" y2="282.14" stroke="#2a2a2a" stroke-width="1.7" stroke-dasharray="8.6 8.5" stroke-dashoffset="0"/>
<line x1="374.8" y1="275.75" x2="379.8" y2="275.75" stroke="#1a1a1a" stroke-width="1.2" />
<line x1="719.2" y1="275.75" x2="724.2" y2="275.75" stroke="#1a1a1a" stroke-width="1.2" />
<line x1="374.8" y1="262.97" x2="377.5" y2="262.97" stroke="#1a1a1a" stroke-width="1.2" />
<line x1="721.5" y1="262.97" x2="724.2" y2="262.97" stroke="#1a1a1a" stroke-width="1.2" />
<line x1="374.8" y1="250.19" x2="379.8" y2="250.19" stroke="#1a1a1a" stroke-width="1.2" />
<line x1="719.2" y1="250.19" x2="724.2" y2="250.19" stroke="#1a1a1a" stroke-width="1.2" />
<line x1="374.8" y1="237.4" x2="377.5" y2="237.4" stroke="#1a1a1a" stroke-width="1.2" />
<line x1="721.5" y1="237.4" x2="724.2" y2="237.4" stroke="#1a1a1a" stroke-width="1.2" />
<line x1="374.8" y1="224.62" x2="379.8" y2="224.62" stroke="#1a1a1a" stroke-width="1.2" />
<line x1="719.2" y1="224.62" x2="724.2" y2="224.62" stroke="#1a1a1a" stroke-width="1.2" />
<line x1="374.8" y1="211.84" x2="377.5" y2="211.84" stroke="#1a1a1a" stroke-width="1.2" />
<line x1="721.5" y1="211.84" x2="724.2" y2="211.84" stroke="#1a1a1a" stroke-width="1.2" />
<text x="368.6" y="280.95" font-size="15.5" text-anchor="end" fill="#1a1a1a" stroke="#1a1a1a" >0.0</text>
<text x="368.6" y="255.39" font-size="15.5" text-anchor="end" fill="#1a1a1a" stroke="#1a1a1a" >0.4</text>
<text x="368.6" y="229.82" font-size="15.5" text-anchor="end" fill="#1a1a1a" stroke="#1a1a1a" >0.8</text>
<text x="368.6" y="204.26" font-size="15.5" text-anchor="end" fill="#1a1a1a" stroke="#1a1a1a" >1.2</text>
<line x1="374.8" y1="277.94" x2="374.8" y2="282.14" stroke="#1a1a1a" stroke-width="1.2" />
<line x1="409.74" y1="279.94" x2="409.74" y2="282.14" stroke="#1a1a1a" stroke-width="1.2" />
<line x1="444.68" y1="277.94" x2="444.68" y2="282.14" stroke="#1a1a1a" stroke-width="1.2" />
<line x1="479.62" y1="279.94" x2="479.62" y2="282.14" stroke="#1a1a1a" stroke-width="1.2" />
<line x1="514.56" y1="277.94" x2="514.56" y2="282.14" stroke="#1a1a1a" stroke-width="1.2" />
<line x1="549.5" y1="279.94" x2="549.5" y2="282.14" stroke="#1a1a1a" stroke-width="1.2" />
<line x1="584.44" y1="277.94" x2="584.44" y2="282.14" stroke="#1a1a1a" stroke-width="1.2" />
<line x1="619.38" y1="279.94" x2="619.38" y2="282.14" stroke="#1a1a1a" stroke-width="1.2" />
<line x1="654.32" y1="277.94" x2="654.32" y2="282.14" stroke="#1a1a1a" stroke-width="1.2" />
<line x1="689.26" y1="279.94" x2="689.26" y2="282.14" stroke="#1a1a1a" stroke-width="1.2" />
<line x1="724.2" y1="277.94" x2="724.2" y2="282.14" stroke="#1a1a1a" stroke-width="1.2" />
<line x1="605.4" y1="255.3" x2="645" y2="255.3" stroke="#d27fae" stroke-width="1.9" />
<text x="649.9" y="261.4" font-size="17.3" text-anchor="start" fill="#c96b9c" stroke="#c96b9c" >Krypton</text>
<text transform="translate(339.6,240.65) rotate(-90)" font-size="18" text-anchor="middle" fill="#1a1a1a" stroke="#1a1a1a">C/C<tspan font-size="15" dy="2.6">0</tspan><tspan dy="-2.6">-</tspan>Kr</text>
<path d="M374.8,358.83 L462.67,358.78 L496.94,357.21 L503.46,356.67 L509.53,355.74 L518.85,353.73 L526.77,351.64 L534.47,349 L543.56,345.37 L551.95,341.35 L562.9,335.35 L567.33,332.63 L578.99,324.92 L586.44,320.88 L594.14,317.41 L613.25,309.42 L618.38,307.57 L627.24,304.86 L636.56,302.45 L647.28,300.25 L658.24,298.33 L667.56,297.1 L679.45,296.11 L691.57,295.42 L710.21,294.81 L724.2,294.6" fill="none" stroke="#e3362f" stroke-width="2.1" stroke-linejoin="round" stroke-linecap="round" clip-path="url(#clipC)"/>
<line x1="386.26" y1="282.14" x2="386.26" y2="365.22" stroke="#2a2a2a" stroke-width="1.7" stroke-dasharray="8.8 7.0" stroke-dashoffset="5.5"/>
<line x1="719.2" y1="358.83" x2="724.2" y2="358.83" stroke="#1a1a1a" stroke-width="1.2" />
<line x1="721.5" y1="346.05" x2="724.2" y2="346.05" stroke="#1a1a1a" stroke-width="1.2" />
<line x1="719.2" y1="333.27" x2="724.2" y2="333.27" stroke="#1a1a1a" stroke-width="1.2" />
<line x1="721.5" y1="320.48" x2="724.2" y2="320.48" stroke="#1a1a1a" stroke-width="1.2" />
<line x1="719.2" y1="307.7" x2="724.2" y2="307.7" stroke="#1a1a1a" stroke-width="1.2" />
<line x1="721.5" y1="294.92" x2="724.2" y2="294.92" stroke="#1a1a1a" stroke-width="1.2" />
<text x="729" y="364.03" font-size="15.5" text-anchor="start" fill="#1a1a1a" stroke="#1a1a1a" >0.0</text>
<text x="729" y="338.47" font-size="15.5" text-anchor="start" fill="#1a1a1a" stroke="#1a1a1a" >0.4</text>
<text x="729" y="312.9" font-size="15.5" text-anchor="start" fill="#1a1a1a" stroke="#1a1a1a" >0.8</text>
<text x="729" y="287.34" font-size="15.5" text-anchor="start" fill="#1a1a1a" stroke="#1a1a1a" >1.2</text>
<line x1="374.8" y1="361.02" x2="374.8" y2="365.22" stroke="#1a1a1a" stroke-width="1.2" />
<line x1="409.74" y1="363.02" x2="409.74" y2="365.22" stroke="#1a1a1a" stroke-width="1.2" />
<line x1="444.68" y1="361.02" x2="444.68" y2="365.22" stroke="#1a1a1a" stroke-width="1.2" />
<line x1="479.62" y1="363.02" x2="479.62" y2="365.22" stroke="#1a1a1a" stroke-width="1.2" />
<line x1="514.56" y1="361.02" x2="514.56" y2="365.22" stroke="#1a1a1a" stroke-width="1.2" />
<line x1="549.5" y1="363.02" x2="549.5" y2="365.22" stroke="#1a1a1a" stroke-width="1.2" />
<line x1="584.44" y1="361.02" x2="584.44" y2="365.22" stroke="#1a1a1a" stroke-width="1.2" />
<line x1="619.38" y1="363.02" x2="619.38" y2="365.22" stroke="#1a1a1a" stroke-width="1.2" />
<line x1="654.32" y1="361.02" x2="654.32" y2="365.22" stroke="#1a1a1a" stroke-width="1.2" />
<line x1="689.26" y1="363.02" x2="689.26" y2="365.22" stroke="#1a1a1a" stroke-width="1.2" />
<line x1="724.2" y1="361.02" x2="724.2" y2="365.22" stroke="#1a1a1a" stroke-width="1.2" />
<line x1="612.3" y1="339.2" x2="653.8" y2="339.2" stroke="#e3362f" stroke-width="1.9" />
<text x="657.3" y="344.8" font-size="17.3" text-anchor="start" fill="#e3362f" stroke="#e3362f" >Xenon</text>
<text transform="translate(765.3,324.18) rotate(-90)" font-size="18" text-anchor="middle" fill="#1a1a1a" stroke="#1a1a1a">C/C<tspan font-size="15" dy="2.6">0</tspan><tspan dy="-2.6">-</tspan>Xe</text>
<path d="M374.8,378.26 L387.62,378.29 L388.79,379.23 L389.95,381.34 L390.65,385.65 L391.35,392.71 L393.21,421.07 L394.61,432.96 L395.54,435.8 L396.94,438.02 L398.81,439.05 L401.37,439.79 L408.83,440.46 L421.65,440.89 L468.04,441.45 L568.03,441.76 L724.2,441.91" fill="none" stroke="#151515" stroke-width="2.1" stroke-linejoin="round" stroke-linecap="round" clip-path="url(#clipC)"/>
<line x1="386.26" y1="365.22" x2="386.26" y2="448.3" stroke="#2a2a2a" stroke-width="1.7" stroke-dasharray="8.8 7.6" stroke-dashoffset="0"/>
<line x1="374.8" y1="441.91" x2="379.8" y2="441.91" stroke="#1a1a1a" stroke-width="1.2" />
<line x1="719.2" y1="441.91" x2="724.2" y2="441.91" stroke="#1a1a1a" stroke-width="1.2" />
<line x1="374.8" y1="429.13" x2="377.5" y2="429.13" stroke="#1a1a1a" stroke-width="1.2" />
<line x1="721.5" y1="429.13" x2="724.2" y2="429.13" stroke="#1a1a1a" stroke-width="1.2" />
<line x1="374.8" y1="416.35" x2="379.8" y2="416.35" stroke="#1a1a1a" stroke-width="1.2" />
<line x1="719.2" y1="416.35" x2="724.2" y2="416.35" stroke="#1a1a1a" stroke-width="1.2" />
<line x1="374.8" y1="403.56" x2="377.5" y2="403.56" stroke="#1a1a1a" stroke-width="1.2" />
<line x1="721.5" y1="403.56" x2="724.2" y2="403.56" stroke="#1a1a1a" stroke-width="1.2" />
<line x1="374.8" y1="390.78" x2="379.8" y2="390.78" stroke="#1a1a1a" stroke-width="1.2" />
<line x1="719.2" y1="390.78" x2="724.2" y2="390.78" stroke="#1a1a1a" stroke-width="1.2" />
<line x1="374.8" y1="378" x2="377.5" y2="378" stroke="#1a1a1a" stroke-width="1.2" />
<line x1="721.5" y1="378" x2="724.2" y2="378" stroke="#1a1a1a" stroke-width="1.2" />
<text x="368.6" y="447.11" font-size="15.5" text-anchor="end" fill="#1a1a1a" stroke="#1a1a1a" >0.0</text>
<text x="368.6" y="421.55" font-size="15.5" text-anchor="end" fill="#1a1a1a" stroke="#1a1a1a" >0.4</text>
<text x="368.6" y="395.98" font-size="15.5" text-anchor="end" fill="#1a1a1a" stroke="#1a1a1a" >0.8</text>
<text x="368.6" y="370.42" font-size="15.5" text-anchor="end" fill="#1a1a1a" stroke="#1a1a1a" >1.2</text>
<line x1="374.8" y1="444.1" x2="374.8" y2="448.3" stroke="#1a1a1a" stroke-width="1.2" />
<line x1="409.74" y1="446.1" x2="409.74" y2="448.3" stroke="#1a1a1a" stroke-width="1.2" />
<line x1="444.68" y1="444.1" x2="444.68" y2="448.3" stroke="#1a1a1a" stroke-width="1.2" />
<line x1="479.62" y1="446.1" x2="479.62" y2="448.3" stroke="#1a1a1a" stroke-width="1.2" />
<line x1="514.56" y1="444.1" x2="514.56" y2="448.3" stroke="#1a1a1a" stroke-width="1.2" />
<line x1="549.5" y1="446.1" x2="549.5" y2="448.3" stroke="#1a1a1a" stroke-width="1.2" />
<line x1="584.44" y1="444.1" x2="584.44" y2="448.3" stroke="#1a1a1a" stroke-width="1.2" />
<line x1="619.38" y1="446.1" x2="619.38" y2="448.3" stroke="#1a1a1a" stroke-width="1.2" />
<line x1="654.32" y1="444.1" x2="654.32" y2="448.3" stroke="#1a1a1a" stroke-width="1.2" />
<line x1="689.26" y1="446.1" x2="689.26" y2="448.3" stroke="#1a1a1a" stroke-width="1.2" />
<line x1="724.2" y1="444.1" x2="724.2" y2="448.3" stroke="#1a1a1a" stroke-width="1.2" />
<line x1="609.2" y1="422.9" x2="650" y2="422.9" stroke="#151515" stroke-width="1.9" />
<text x="654.2" y="428.3" font-size="17.3" text-anchor="start" fill="#151515" stroke="#151515" >Helium</text>
<text transform="translate(339.6,406.81) rotate(-90)" font-size="18" text-anchor="middle" fill="#1a1a1a" stroke="#1a1a1a">C/C<tspan font-size="15" dy="2.6">0</tspan><tspan dy="-2.6">-</tspan>He</text>
<rect x="374.8" y="32.9" width="349.4" height="83.08" fill="none" stroke="#1a1a1a" stroke-width="1.6"/>
<rect x="374.8" y="115.98" width="349.4" height="83.08" fill="none" stroke="#1a1a1a" stroke-width="1.6"/>
<rect x="374.8" y="199.06" width="349.4" height="83.08" fill="none" stroke="#1a1a1a" stroke-width="1.6"/>
<rect x="374.8" y="282.14" width="349.4" height="83.08" fill="none" stroke="#1a1a1a" stroke-width="1.6"/>
<rect x="374.8" y="365.22" width="349.4" height="83.08" fill="none" stroke="#1a1a1a" stroke-width="1.6"/>
<text x="374.8" y="467.6" font-size="17.2" text-anchor="middle" fill="#1a1a1a" stroke="#1a1a1a" >0</text>
<text x="444.68" y="467.6" font-size="17.2" text-anchor="middle" fill="#1a1a1a" stroke="#1a1a1a" >50</text>
<text x="514.56" y="467.6" font-size="17.2" text-anchor="middle" fill="#1a1a1a" stroke="#1a1a1a" >100</text>
<text x="584.44" y="467.6" font-size="17.2" text-anchor="middle" fill="#1a1a1a" stroke="#1a1a1a" >150</text>
<text x="654.32" y="467.6" font-size="17.2" text-anchor="middle" fill="#1a1a1a" stroke="#1a1a1a" >200</text>
<text x="724.2" y="467.6" font-size="17.2" text-anchor="middle" fill="#1a1a1a" stroke="#1a1a1a" >250</text>
<text x="549.5" y="486.6" font-size="18.6" text-anchor="middle" fill="#1a1a1a" stroke="#1a1a1a" >Time (min)</text>
<line x1="386.26" y1="18.3" x2="386.26" y2="26" stroke="#1a1a1a" stroke-width="1.3" />
<path d="M384.16,23.3 L388.36,23.3 L386.26,31.5 Z" fill="#1a1a1a"/>
<text x="417.5" y="16.3" font-size="16.6" text-anchor="middle" fill="#1a1a1a" stroke="#1a1a1a" >Target Gas</text>
<text x="324" y="11.4" font-size="16.4" text-anchor="middle" fill="#1a1a1a" stroke="#1a1a1a" >(c)</text>
</svg></body></html>
